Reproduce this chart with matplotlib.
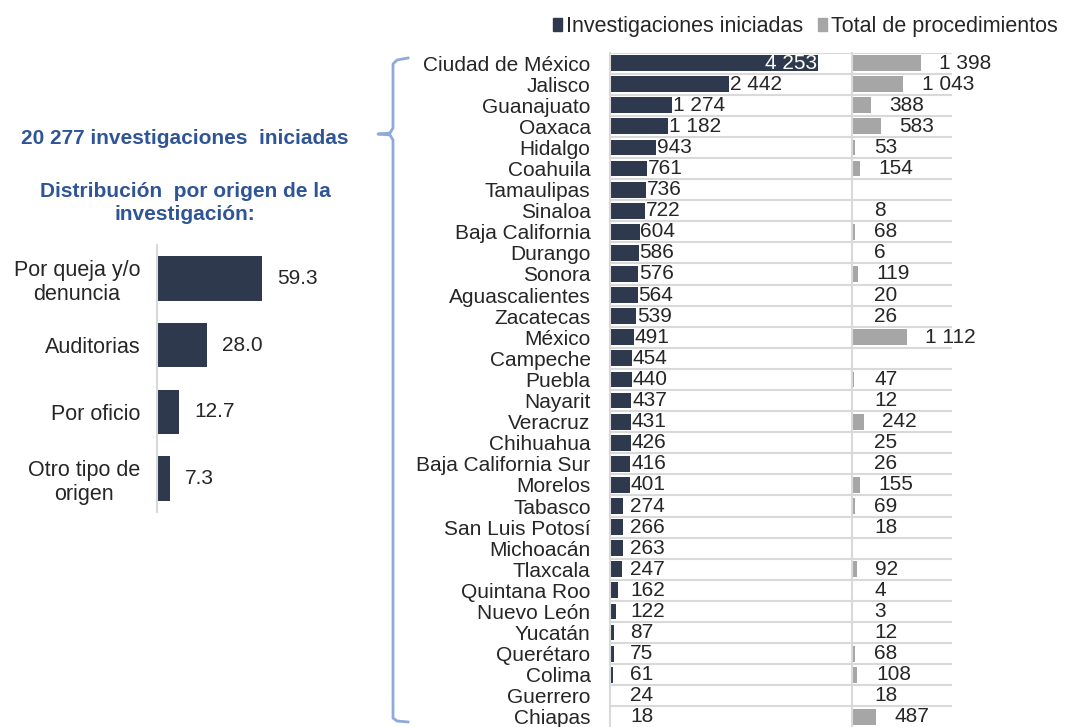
import numpy as np
import matplotlib.pyplot as plt
from matplotlib.lines import Line2D
from matplotlib.patches import Patch

#------------------------------------------------------------------------------
# datos
estados = ["Ciudad de México", "Jalisco", "Guanajuato", "Oaxaca", "Hidalgo", "Coahuila",
           "Tamaulipas", "Sinaloa", "Baja California", "Durango", "Sonora", "Aguascalientes",
           "Zacatecas", "México", "Campeche", "Puebla", "Nayarit", "Veracruz", "Chihuahua",
           "Baja California Sur", "Morelos", "Tabasco", "San Luis Potosí", "Michoacán",
           "Tlaxcala", "Quintana Roo", "Nuevo León", "Yucatán", "Querétaro", "Colima",
           "Guerrero", "Chiapas"]
investigaciones = [4253, 2442, 1274, 1182, 943, 761, 736, 722, 604, 586, 576, 564, 539, 491,
                   454, 440, 437, 431, 426, 416, 401, 274, 266, 263, 247, 162, 122, 87, 75,
                   61, 24, 18]
procedimientos = [1398, 1043, 388, 583, 53, 154, None, 8, 68, 6, 119, 20, 26, 1112, None, 47,
                  12, 242, 25, 26, 155, 69, 18, None, 92, 4, 3, 12, 68, 108, 18, 487]

origenes = ["Por queja y/o\ndenuncia", "Auditorias", "Por oficio", "Otro tipo de\norigen"]
porcentajes = [59.3, 28.0, 12.7, 7.3]

titulo = "20 277 investigaciones  iniciadas"
subtitulo = "Distribución  por origen de la\ninvestigación:"

#------------------------------------------------------------------------------
oscuro = "#2e394d"
gris = "#a6a6a6"
azul = "#2f5597"
linea = "#d9d9d9"
plt.rcParams["font.family"] = ["Liberation Sans", "DejaVu Sans"]

W, H = 1074, 727
fig = plt.figure(figsize=(W / 100, H / 100), dpi=100)

def caja(x0, y0, x1, y1):  # pixeles -> coords de figura
    return [x0 / W, 1 - y1 / H, (x1 - x0) / W, (y1 - y0) / H]

n = len(estados)
y = np.arange(n)
fs = 15

# barras oscuras
ax1 = fig.add_axes(caja(610, 52.5, 852, 727.5))
ax1.barh(y, investigaciones, height=0.75, color=oscuro)
ax1.set_xlim(0, 4950)
ax1.set_ylim(n - 0.5, -0.5)
for i, v in enumerate(investigaciones):
    if i == 0:
        ax1.text(v - 20, i, "{:,}".format(v).replace(",", " "), color="white",
                 ha="right", va="center", fontsize=fs)
    else:
        ax1.text(max(v, 400) + 15, i, "{:,}".format(v).replace(",", " "), color="#262626",
                 ha="left", va="center", fontsize=fs)
ax1.set_yticks(y)
ax1.set_yticklabels(estados, fontsize=fs, color="#262626")
ax1.tick_params(axis="y", length=0, pad=14)
ax1.set_xticks([])

# barras grises
ax2 = fig.add_axes(caja(852, 52.5, 952, 727.5))
pv = [0 if p is None else p for p in procedimientos]
ax2.barh(y, pv, height=0.75, color=gris)
ax2.set_xlim(0, 2040)
ax2.set_ylim(n - 0.5, -0.5)
for i, p in enumerate(procedimientos):
    if p is None:
        continue
    ax2.text(max(p + 380, 450), i, "{:,}".format(p).replace(",", " "), color="#262626",
             ha="left", va="center", fontsize=fs, clip_on=False)
ax2.set_xticks([])
ax2.set_yticks([])

for ax in (ax1, ax2):
    for s in ["top", "right", "bottom"]:
        ax.spines[s].set_visible(False)
    ax.spines["left"].set_color(linea)
    ax.spines["left"].set_linewidth(1.5)
    for b in np.arange(-0.5, n, 1.0):
        ax.axhline(b, color=linea, lw=1.5, zorder=0)

fig.legend(handles=[Patch(color=oscuro, label="Investigaciones iniciadas"),
                    Patch(color=gris, label="Total de procedimientos")],
           loc="upper right", bbox_to_anchor=(1.003, 1.005), ncol=2, frameon=False,
           fontsize=15.5, handlelength=0.4, handleheight=0.55, handletextpad=0.2,
           columnspacing=0.7, labelcolor="#262626")

#------------------------------------------------------------------------------
# panel izquierdo
ax3 = fig.add_axes(caja(157, 245, 334, 512))
ax3.barh(np.arange(4), porcentajes, height=0.67, color=oscuro)
ax3.set_xlim(0, 100)
ax3.set_ylim(3.5, -0.5)
for i, v in enumerate(porcentajes):
    ax3.text(v + 8.5, i, "{:.1f}".format(v), ha="left", va="center", fontsize=15,
             color="#262626")
ax3.set_yticks(np.arange(4))
ax3.set_yticklabels(origenes, fontsize=15.5, color="#262626", multialignment="center")
ax3.tick_params(axis="y", length=0, pad=12)
ax3.set_xticks([])
for s in ["top", "right", "bottom"]:
    ax3.spines[s].set_visible(False)
ax3.spines["left"].set_color(linea)
ax3.spines["left"].set_linewidth(1.5)

fig.text(185 / W, 1 - 138 / H, titulo, ha="center", va="center", color=azul,
         fontsize=15, fontweight="bold")
fig.text(185 / W, 1 - 203 / H, subtitulo, ha="center", va="center", color=azul,
         fontsize=15, fontweight="bold", linespacing=1.25)

# llave azul
px = [408, 397, 393, 393, 390, 378, 390, 393, 393, 397, 408]
py = [58, 60, 64, 128, 133, 134, 135, 140, 718, 721, 722]
fig.add_artist(Line2D([a / W for a in px], [1 - b / H for b in py], color="#8eaadb", lw=2))

fig.savefig("out.png", dpi=100, facecolor="white")
